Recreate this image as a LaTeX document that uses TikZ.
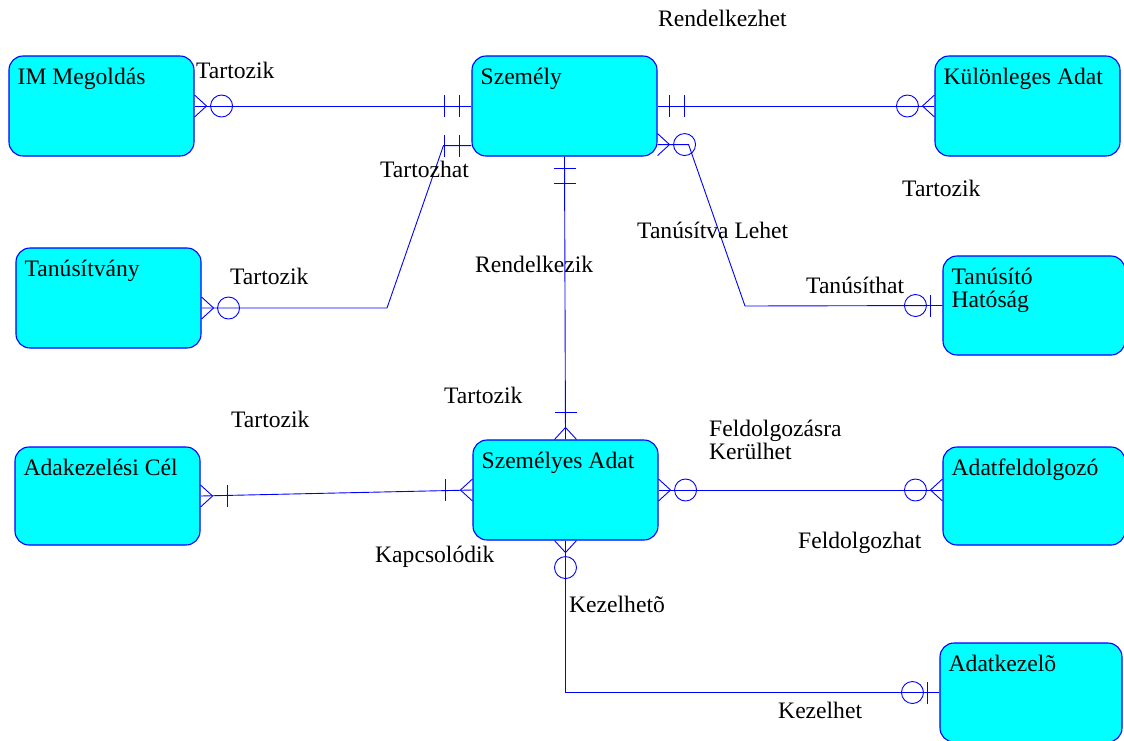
\documentclass[tikz,border=0pt]{standalone}
\usepackage{fontspec}
\setmainfont{Liberation Serif}
\usetikzlibrary{calc}
\definecolor{entfill}{RGB}{0,255,255}
\definecolor{linkblue}{RGB}{0,0,255}

\begin{document}
\begin{tikzpicture}[x=1pt,y=-1pt,
  font=\fontsize{23.6}{23.5}\selectfont,
  entity/.style={shape=rectangle, draw=linkblue, fill=entfill, line width=1.1pt,
                 rounded corners=14pt, inner sep=0pt},
  rel/.style={draw=linkblue, line width=0.9pt},
  lbl/.style={anchor=base west, inner sep=0pt, text=black},
  etitle/.style={lbl, label distance=0pt, xshift=9pt, yshift=-29pt},
  % cardinality ends, drawn outward from the entity border along local x
  pics/zeromany/.style={code={
    \draw[rel] (0,-11) -- (12,0) -- (0,11);
    \draw[rel] (27,0) circle (11pt);}},
  pics/exactlyone/.style={code={
    \draw[rel] (12,-11) -- (12,11);
    \draw[rel] (27,-11) -- (27,11);}},
  pics/zeroone/.style={code={
    \draw[rel] (12,-11) -- (12,11);
    \draw[rel] (27,0) circle (11pt);}},
  pics/onemany/.style={code={
    \draw[rel] (0,-11) -- (12,0) -- (0,11);
    \draw[rel] (27,-11) -- (27,11);}},
]
\useasboundingbox (0,0) rectangle (1124,740);

% entities
\node[entity, minimum width=185pt, minimum height=100pt,
      label={[etitle]north west:IM Megoldás}] (im) at (101.5,106) {};
\node[entity, minimum width=185pt, minimum height=100pt,
      label={[etitle]north west:Személy}] (szemely) at (564.5,106) {};
\node[entity, minimum width=185pt, minimum height=100pt,
      label={[etitle]north west:Különleges Adat}] (kulonleges) at (1027.5,106) {};
\node[entity, minimum width=185pt, minimum height=100pt,
      label={[etitle]north west:Tanúsítvány}] (tanusitvany) at (108.5,298) {};
\node[entity, minimum width=182pt, minimum height=99pt,
      label={[etitle]north west:{\begin{tabular}[t]{@{}l@{}}Tanúsító\\Hatóság\end{tabular}}}] (hatosag) at (1034,305.5) {};
\node[entity, minimum width=185pt, minimum height=98pt,
      label={[etitle]north west:Adakezelési Cél}] (cel) at (107.5,496) {};
\node[entity, minimum width=185pt, minimum height=100pt,
      label={[etitle]north west:Személyes Adat}] (szadat) at (565.5,490) {};
\node[entity, minimum width=182pt, minimum height=98pt,
      label={[etitle]north west:Adatfeldolgozó}] (feldolgozo) at (1034,496) {};
\node[entity, minimum width=182pt, minimum height=99pt,
      label={[etitle]north west:Adatkezelõ}] (kezelo) at (1031,692.5) {};

% IM Megoldás -- Személy
\draw[rel] (im.east) -- (szemely.west);
\path (im.east) pic {zeromany};
\path (szemely.west) pic[rotate=180] {exactlyone};

% Tanúsítvány -- Személy
\coordinate (tzs) at ($(szemely.south west)+(0,-11)$);
\coordinate (tzt) at ($(tanusitvany.east)+(0,10)$);
\draw[rel] (tzs) -- ++(-28,0) -- (387,308) -- (tzt);
\path (tzs) pic[rotate=180] {exactlyone};
\path (tzt) pic {zeromany};

% Személy -- Különleges Adat
\draw[rel] (szemely.east) -- (kulonleges.west);
\path (szemely.east) pic {exactlyone};
\path (kulonleges.west) pic[rotate=180] {zeromany};

% Személy -- Tanúsító Hatóság
\coordinate (tlz) at ($(szemely.south east)+(0,-12)$);
\draw[rel] (tlz) -- ++(31,0) -- (745,306) -- (hatosag.west);
\path (tlz) pic {zeromany};
\path (hatosag.west) pic[rotate=180] {zeroone};

% Személy -- Személyes Adat
\draw[rel] (szemely.south) -- (szadat.north);
\path (szemely.south) pic[rotate=-90] {exactlyone};
\path (szadat.north) pic[rotate=90] {onemany};

% Adakezelési Cél -- Személyes Adat
\draw[rel] (cel.east) -- (szadat.west);
\path (cel.east) pic {onemany};
\path (szadat.west) pic[rotate=180] {onemany};

% Személyes Adat -- Adatfeldolgozó
\coordinate (fde) at (szadat.east -| feldolgozo.west);
\draw[rel] (szadat.east) -- (fde);
\path (szadat.east) pic {zeromany};
\path (fde) pic[rotate=180] {zeromany};

% Személyes Adat -- Adatkezelõ
\draw[rel] (szadat.south) -- (szadat.south |- kezelo.west) -- (kezelo.west);
\path (szadat.south) pic[rotate=-90] {zeromany};
\path (kezelo.west) pic[rotate=180] {zeroone};

% relationship names
\node[lbl] (n1) at (658,26) {Rendelkezhet};
\node[lbl] (n2) at (196,78) {Tartozik};
\node[lbl] (n3) at (380,177) {Tartozhat};
\node[lbl] (n4) at (902,196) {Tartozik};
\node[lbl] (n5) at (637,238) {Tanúsítva Lehet};
\node[lbl] (n6) at (475,272) {Rendelkezik};
\node[lbl] (n7) at (230,284) {Tartozik};
\node[lbl] (n8) at (806,293) {Tanúsíthat};
\node[lbl] (n9) at (444,403) {Tartozik};
\node[lbl] (n10) at (231,427) {Tartozik};
\node[lbl] (n11) at (709,436) {\begin{tabular}[t]{@{}l@{}}Feldolgozásra\\Kerülhet\end{tabular}};
\node[lbl] (n12) at (798,548) {Feldolgozhat};
\node[lbl] (n13) at (375,562) {Kapcsolódik};
\node[lbl] (n14) at (569,612) {Kezelhetõ};
\node[lbl] (n15) at (778,718) {Kezelhet};
\end{tikzpicture}
\end{document}
